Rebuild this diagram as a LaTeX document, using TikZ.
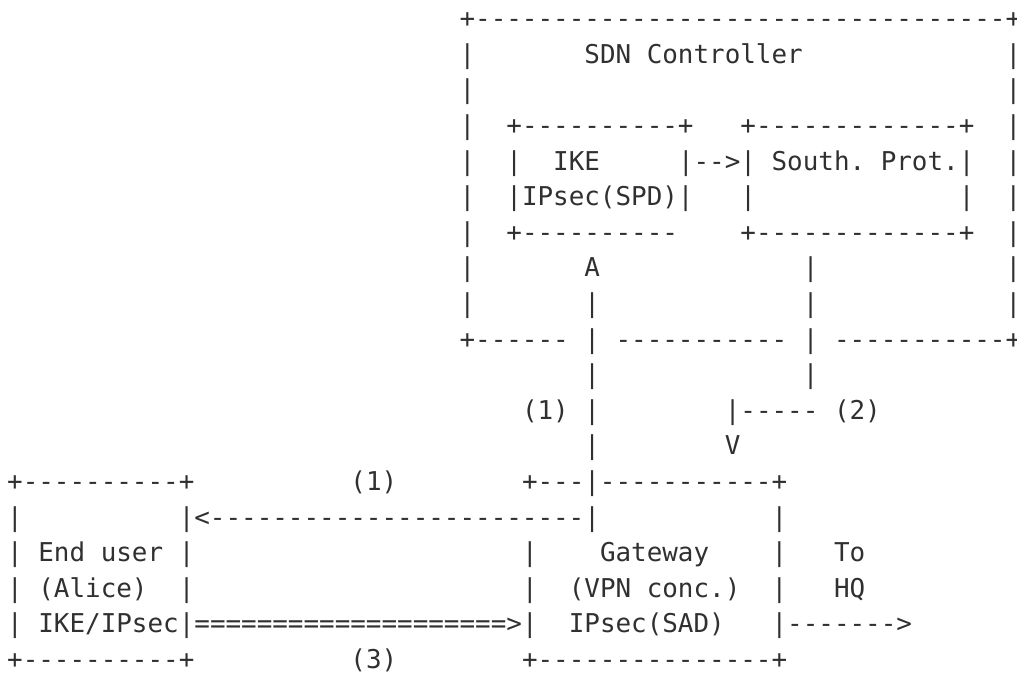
\documentclass[tikz,border=0pt]{standalone}
\usepackage{fontspec}
\setmonofont{DejaVu Sans Mono}

\definecolor{asciigray}{HTML}{303030}
\tikzset{
    ascii/.style={
        anchor=base west,
        inner sep=0pt,
        outer sep=0pt,
        text=asciigray,
        font=\ttfamily\fontsize{25.91pt}{35.6pt}\selectfont
    }
}

\begin{document}
\begin{tikzpicture}[x=15.6pt,y=-35.6pt]
% Page frame
\useasboundingbox (-7.2pt,-8pt) rectangle (1009.8pt,-681pt);

% SDN controller box
\node[ascii] (sdnTop) at (29,1) {+----------------------------------+};
\node[ascii] (sdn) at (37,2) {SDN Controller};
\foreach \r in {2,...,9}{
    \node[ascii] (sdnL\r) at (29,\r) {|};
    \node[ascii] (sdnR\r) at (64,\r) {|};
}
\node[ascii] (sdnBotA) at (29,10) {+------};
\node[ascii] (sdnBotB) at (39,10) {-----------};
\node[ascii] (sdnBotC) at (53,10) {-----------+};

% IKE box
\node[ascii] (ikeTop) at (32,4) {+----------+};
\node[ascii] (ikeL) at (32,5) {|};
\node[ascii] (ike) at (35,5) {IKE};
\node[ascii] (ikeArrow) at (43,5) {|-->|};
\node[ascii] (spd) at (32,6) {|IPsec(SPD)|};
\node[ascii] (ikeBot) at (32,7) {+----------};

% Southbound protocol box
\node[ascii] (southTop) at (47,4) {+-------------+};
\node[ascii] (south) at (49,5) {South. Prot.};
\node[ascii] (southR5) at (61,5) {|};
\node[ascii] (southL6) at (47,6) {|};
\node[ascii] (southR6) at (61,6) {|};
\node[ascii] (southBot) at (47,7) {+-------------+};

% Vertical links
\node[ascii] (up) at (37,8) {A};
\foreach \r in {9,10,11,12,13}
    \node[ascii] (ikeV\r) at (37,\r) {|};
\foreach \r in {8,9,10,11}
    \node[ascii] (southV\r) at (51,\r) {|};
\node[ascii] (southTurn) at (46,12) {|-----};
\node[ascii] (down) at (46,13) {V};
\node[ascii] (lblOneUp) at (33,12) {(1)};
\node[ascii] (lblTwo) at (53,12) {(2)};

% End user box
\node[ascii] (userTop) at (0,14) {+----------+};
\node[ascii] (userL15) at (0,15) {|};
\node[ascii] (back) at (11,15) {|<------------------------|};
\node[ascii] (user) at (0,16) {| End user |};
\node[ascii] (userL17) at (0,17) {|};
\node[ascii] (alice) at (2,17) {(Alice)};
\node[ascii] (userR17) at (11,17) {|};
\node[ascii] (ikeUser) at (0,18) {| IKE/IPsec|};
\node[ascii] (tunnel) at (12,18) {====================>};
\node[ascii] (userBot) at (0,19) {+----------+};
\node[ascii] (lblOne) at (22,14) {(1)};
\node[ascii] (lblThree) at (22,19) {(3)};

% Gateway box
\node[ascii] (gwTop) at (33,14) {+---|-----------+};
\node[ascii] (gwR15) at (49,15) {|};
\foreach \r in {16,17,18}
    \node[ascii] (gwL\r) at (33,\r) {|};
\foreach \r in {16,17}
    \node[ascii] (gwR\r) at (49,\r) {|};
\node[ascii] (gw) at (38,16) {Gateway};
\node[ascii] (vpn) at (36,17) {(VPN conc.)};
\node[ascii] (sad) at (36,18) {IPsec(SAD)};
\node[ascii] (toHq) at (49,18) {|------->};
\node[ascii] (to) at (53,16) {To};
\node[ascii] (hq) at (53,17) {HQ};
\node[ascii] (gwBot) at (33,19) {+---------------+};
\end{tikzpicture}
\end{document}
